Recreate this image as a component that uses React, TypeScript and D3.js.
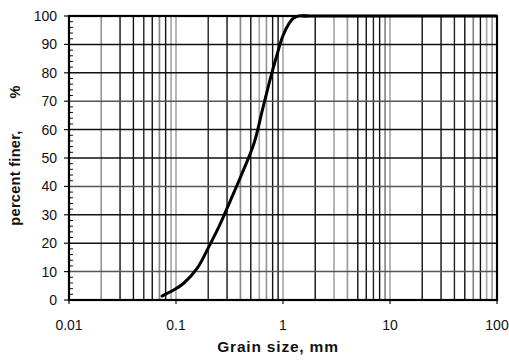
import React from "react";
import * as d3 from "d3";

const grainSize = [0.074, 0.095, 0.118, 0.158, 0.203, 0.252, 0.324, 0.402, 0.536, 0.642, 0.769, 0.888, 0.99, 1.14, 1.25, 1.4, 1.7];
const percentFiner = [1.4, 3.5, 5.9, 11.2, 18.8, 25.8, 35.2, 43.4, 55.2, 66.9, 78.6, 86.9, 92.7, 97.4, 99.2, 100, 100];
const xTicks = [0.01, 0.1, 1, 10, 100];
const xTickLabels = ["0.01", "0.1", "1", "10", "100"];
const yTicks = [0, 10, 20, 30, 40, 50, 60, 70, 80, 90, 100];

const W = 509, H = 362;
const M = { left: 69, right: 12, top: 16, bottom: 62 };

export default function App() {
  const x = d3.scaleLog().domain([0.01, 100]).range([M.left, W - M.right]);
  const y = d3.scaleLinear().domain([0, 100]).range([H - M.bottom, M.top]);
  const line = d3
    .line<number>()
    .x((d, i) => x(grainSize[i]))
    .y((d) => y(d))
    .curve(d3.curveCatmullRom.alpha(0.5));

  const vLines: { v: number; c: string; w: number }[] = [];
  const pattern = ["#9a9a9a", "#111", "#111", "#222", "#111", "#888", "#111", "#aaa"];
  let k = 0;
  for (let dec = 0.01; dec < 100; dec *= 10) {
    for (let m = 2; m <= 9; m++) {
      const c = pattern[(m - 2 + k) % pattern.length];
      vLines.push({ v: dec * m, c, w: c === "#111" || c === "#222" ? 1.4 : 1.7 });
    }
    k += 3;
  }
  const minorY = d3.range(0, 101, 2).filter((v) => v % 10 !== 0);
  const font = "Liberation Sans, Arial, sans-serif";

  return (
    <svg width={W} height={H} style={{ position: "absolute", left: 0, top: 0, background: "#fff" }}>
      {vLines.map((l, i) => (
        <line key={"v" + i} x1={x(l.v)} x2={x(l.v)} y1={y(0)} y2={y(100)} stroke={l.c} strokeWidth={l.w} />
      ))}
      {xTicks.slice(1, -1).map((t) => (
        <line key={"xm" + t} x1={x(t)} x2={x(t)} y1={y(0)} y2={y(100)} stroke="#999" strokeWidth={1.4} />
      ))}
      {yTicks.slice(1, -1).map((t, i) => (
        <line key={"h" + t} x1={x(0.01)} x2={x(100)} y1={y(t)} y2={y(t)} stroke={i % 3 === 0 ? "#555" : "#111"} strokeWidth={1.5} />
      ))}
      {minorY.map((t) => (
        <line key={"my" + t} x1={x(0.01)} x2={x(0.01) + 4} y1={y(t)} y2={y(t)} stroke="#111" strokeWidth={1} />
      ))}
      {yTicks.map((t) => (
        <line key={"yt" + t} x1={x(0.01) - 5} x2={x(0.01)} y1={y(t)} y2={y(t)} stroke="#111" strokeWidth={1.2} />
      ))}
      {xTicks.map((t) => (
        <line key={"xt" + t} x1={x(t)} x2={x(t)} y1={y(0)} y2={y(0) + 4} stroke="#111" strokeWidth={1.2} />
      ))}
      <rect x={x(0.01)} y={y(100)} width={x(100) - x(0.01)} height={y(0) - y(100)} fill="none" stroke="#000" strokeWidth={2.2} />
      <path d={line(percentFiner) || ""} fill="none" stroke="#000" strokeWidth={3} strokeLinecap="round" />
      <line x1={x(1.5)} x2={x(100)} y1={y(100)} y2={y(100)} stroke="#000" strokeWidth={3} />
      {yTicks.map((t) => (
        <text key={"yl" + t} x={x(0.01) - 12} y={y(t)} dy="0.36em" textAnchor="end" fontFamily={font} fontSize={14} fill="#111">
          {t}
        </text>
      ))}
      {xTicks.map((t, i) => (
        <text key={"xl" + t} x={x(t)} y={y(0) + 30} textAnchor="middle" fontFamily={font} fontSize={14} fill="#111">
          {xTickLabels[i]}
        </text>
      ))}
      <text x={278} y={352} textAnchor="middle" fontFamily={font} fontSize={15.5} fontWeight="bold" letterSpacing={0.8} fill="#111">
        Grain size, mm
      </text>
      <text transform="translate(20,178) rotate(-90)" textAnchor="middle" fontFamily={font} fontSize={14.5} fontWeight="bold" letterSpacing={0.3} fill="#111">
        percent finer,
      </text>
      <text transform="translate(20,92) rotate(-90)" textAnchor="middle" fontFamily={font} fontSize={14.5} fontWeight="bold" fill="#111">
        %
      </text>
    </svg>
  );
}
